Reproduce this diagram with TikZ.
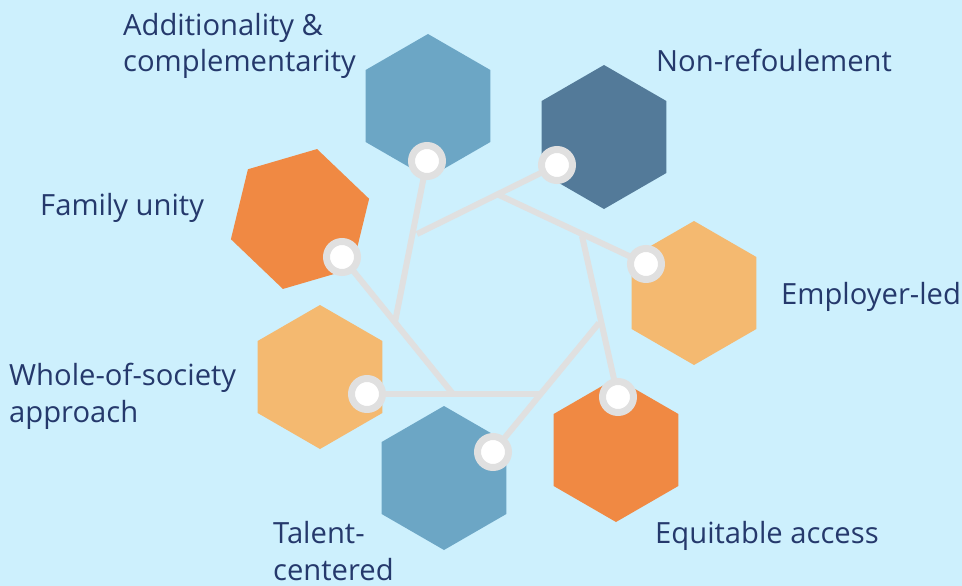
\documentclass[tikz,border=0pt]{standalone}
\usepackage{fontspec}
\setmainfont{Open Sans}
\usetikzlibrary{shapes.geometric}
\definecolor{bg}{HTML}{CDF0FD}
\definecolor{medblue}{HTML}{6CA6C5}
\definecolor{darkblue}{HTML}{537A99}
\definecolor{orng}{HTML}{F08943}
\definecolor{lorng}{HTML}{F4B970}
\definecolor{linegray}{HTML}{E0E0E0}
\definecolor{txt}{HTML}{25396C}
\tikzset{
  hexa/.style={regular polygon, regular polygon sides=6, minimum size=144pt, inner sep=0pt, draw=none},
  link/.style={draw=linegray, line width=6pt},
  dot/.style={circle, fill=white, draw=linegray, line width=7pt, minimum size=31pt, inner sep=0pt},
  lbl/.style={text=txt, anchor=base west, align=left, inner sep=0pt, font=\fontsize{29.2}{36.5}\selectfont},
}
\begin{document}
\begin{tikzpicture}[x=1pt,y=-1pt]
\fill[bg] (0,0) rectangle (962,586);
\useasboundingbox (0,0) rectangle (962,586);
% hexagons
\node[hexa, fill=medblue, rotate=30] (hA) at (428,106) {};
\node[hexa, fill=darkblue, rotate=30] (hN) at (604,137) {};
\node[hexa, fill=orng, rotate=16.3] (hF) at (300,219) {};
\node[hexa, fill=lorng, rotate=30] (hE) at (694,293) {};
\node[hexa, fill=lorng, rotate=30] (hW) at (320,377) {};
\node[hexa, fill=medblue, rotate=30] (hT) at (444,478) {};
\node[hexa, fill=orng, rotate=30] (hQ) at (616,450) {};
% heptagon vertices
\coordinate (v1) at (499,195);
\coordinate (v2) at (582,236);
\coordinate (v3) at (599,323);
\coordinate (v4) at (542,394);
\coordinate (v5) at (453,394);
\coordinate (v6) at (395,322);
\coordinate (v7) at (417,234);
% circle centres
\coordinate (c1) at (557,165);
\coordinate (c2) at (646,264);
\coordinate (c3) at (618,397);
\coordinate (c4) at (493,452);
\coordinate (c5) at (367,394);
\coordinate (c6) at (342,257);
\coordinate (c7) at (427,161);
% links
\draw[link] (v7) -- (c1);
\draw[link] (v1) -- (c2);
\draw[link] (v2) -- (c3);
\draw[link] (v3) -- (c4);
\draw[link] (v4) -- (c5);
\draw[link] (v5) -- (c6);
\draw[link] (v6) -- (c7);
% dots
\foreach \i in {1,...,7} { \node[dot] (d\i) at (c\i) {}; }
% labels
\node[lbl] (tA) at (123,72) {Additionality \&\\complementarity};
\node[lbl] (tN) at (656,72) {Non-refoulement};
\node[lbl] (tF) at (40,215) {Family unity};
\node[lbl] (tE) at (781,304) {Employer-led};
\node[lbl] (tW) at (9,422) {Whole-of-society\\approach};
\node[lbl] (tT) at (273,580) {Talent-\\centered};
\node[lbl] (tQ) at (655,543) {Equitable access};
\end{tikzpicture}
\end{document}
